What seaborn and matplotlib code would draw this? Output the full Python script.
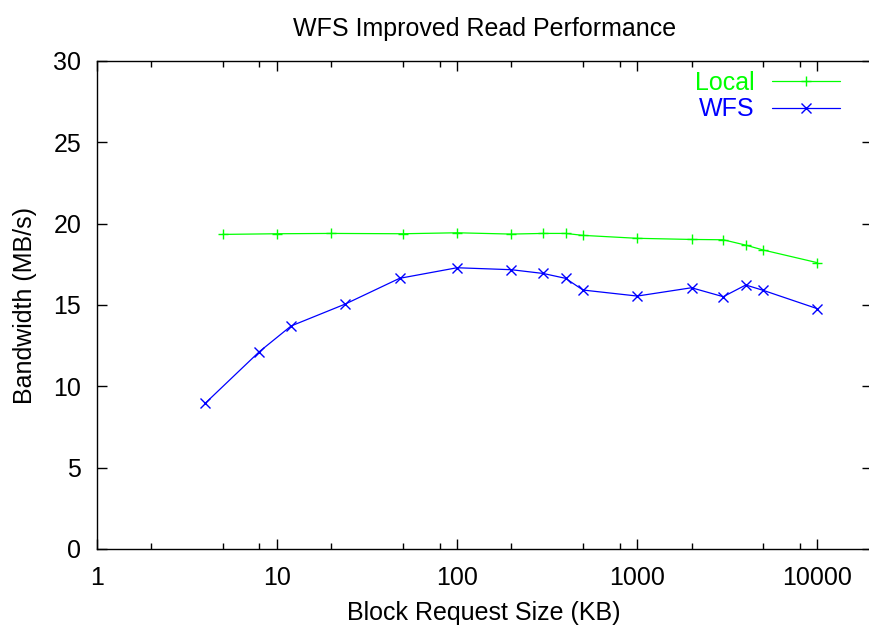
import matplotlib
matplotlib.use("Agg")
import pandas as pd
import seaborn as sns
from matplotlib import pyplot as plt
from matplotlib.ticker import FixedLocator, NullFormatter

# block request size (KB) and bandwidth (MB/s)
local_size = [5, 10, 20, 50, 100, 200, 300, 400, 500, 1000, 2000, 3000, 4000, 5000, 10000]
local_bw = [19.34, 19.38, 19.40, 19.38, 19.44, 19.36, 19.40, 19.40, 19.28, 19.10,
            19.03, 19.01, 18.68, 18.38, 17.60]

wfs_size = [4, 8, 12, 24, 48, 100, 200, 300, 400, 500, 1000, 2000, 3000, 4000, 5000, 10000]
wfs_bw = [8.95, 12.13, 13.71, 15.06, 16.64, 17.29, 17.17, 16.94, 16.64, 15.92, 15.55,
          16.06, 15.51, 16.23, 15.90, 14.77]

series_names = ["Local", "WFS"]
series_colors = {"Local": "#00ff00", "WFS": "#0000ff"}
series_markers = {"Local": "+", "WFS": "x"}

df = pd.concat(
    [
        pd.DataFrame({"size": local_size, "bw": local_bw, "series": "Local"}),
        pd.DataFrame({"size": wfs_size, "bw": wfs_bw, "series": "WFS"}),
    ],
    ignore_index=True,
)

sns.set_style("ticks")
plt.rcParams["font.family"] = ["Liberation Sans", "DejaVu Sans"]
plt.rcParams["text.color"] = "black"
plt.rcParams["axes.labelcolor"] = "black"
plt.rcParams["xtick.color"] = "black"
plt.rcParams["ytick.color"] = "black"

FS = 18

fig = plt.figure(figsize=(8.7, 6.25), dpi=100)
ax = fig.add_axes([0.111, 0.1216, 0.891, 0.7808])

for name in series_names:
    sub = df[df["series"] == name]
    sns.lineplot(
        data=sub,
        x="size",
        y="bw",
        ax=ax,
        color=series_colors[name],
        marker=series_markers[name],
        markersize=6.5,
        markeredgewidth=1.0,
        markeredgecolor=series_colors[name],
        linewidth=0.9,
        label=name,
    )

ax.set_xscale("log")
ax.set_xlim(1, 20000)
ax.set_ylim(0, 30)
ax.set_yticks([0, 5, 10, 15, 20, 25, 30])
ax.xaxis.set_major_locator(FixedLocator([1, 10, 100, 1000, 10000]))
ax.set_xticklabels(["1", "10", "100", "1000", "10000"])
minors = [m * 10**d for d in range(0, 5) for m in (2, 5, 8)]
ax.xaxis.set_minor_locator(FixedLocator(minors))
ax.xaxis.set_minor_formatter(NullFormatter())

for side in ["top", "right", "left", "bottom"]:
    ax.spines[side].set_visible(True)
    ax.spines[side].set_linewidth(1.0)
    ax.spines[side].set_color("black")

ax.tick_params(axis="both", which="major", direction="in", length=7, width=1,
               top=True, right=True, labelsize=FS)
ax.tick_params(axis="y", which="major", pad=11)
ax.tick_params(axis="x", which="major", pad=12)
ax.tick_params(axis="x", which="minor", direction="in", length=4, width=1, top=True)

ax.set_xlabel("Block Request Size (KB)", fontsize=FS, labelpad=8)
ax.set_ylabel("Bandwidth (MB/s)", fontsize=FS, labelpad=12)
ax.set_title("WFS Improved Read Performance", fontsize=FS, pad=18)

leg = ax.legend(
    loc="upper right",
    bbox_to_anchor=(0.959, 0.98),
    borderaxespad=0,
    borderpad=0,
    frameon=False,
    markerfirst=False,
    labelcolor="linecolor",
    fontsize=FS,
    handlelength=2.7,
    handletextpad=0.7,
    labelspacing=0.1,
)
for text in leg.get_texts():
    text.set_ha("right")

fig.savefig("out.png", dpi=100)
